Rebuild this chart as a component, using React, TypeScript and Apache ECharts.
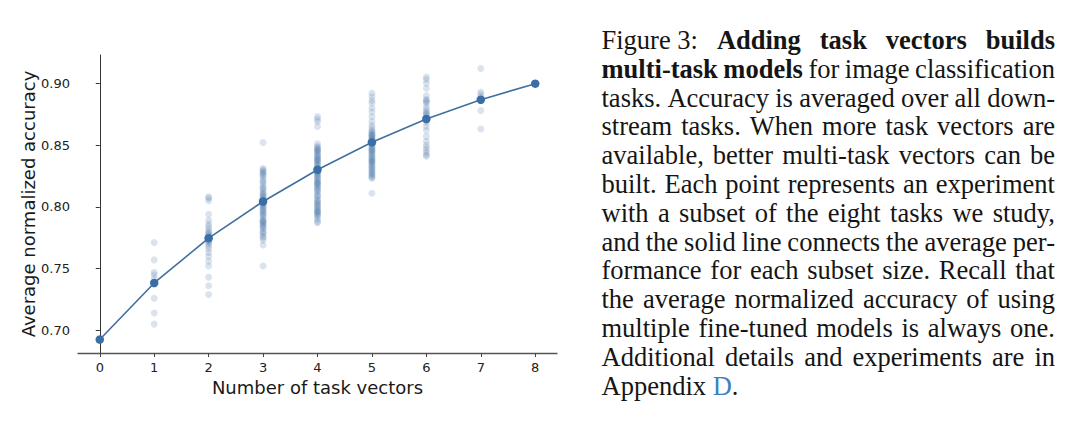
import React, { useEffect, useRef } from "react";
import * as echarts from "echarts";

// ---------- data ----------
const subsetSizes = [0, 1, 2, 3, 4, 5, 6, 7, 8];
const meanAccuracy = [0.6925, 0.7383, 0.7746, 0.8043, 0.83, 0.8522, 0.8711, 0.8867, 0.8997];

const acc0 = [0.6925];
const acc1 = [0.771, 0.757, 0.747, 0.745, 0.742, 0.726, 0.714, 0.705];
const acc2 = [
  0.808, 0.807, 0.805, 0.794, 0.789, 0.786, 0.784, 0.782, 0.78, 0.779, 0.778, 0.777, 0.776, 0.775,
  0.774, 0.773, 0.772, 0.771, 0.77, 0.768, 0.766, 0.763, 0.76, 0.756, 0.752, 0.743, 0.736, 0.729,
];
const acc3 = [
  0.852, 0.831, 0.83, 0.829, 0.828, 0.827, 0.826, 0.825, 0.823, 0.821, 0.82, 0.818, 0.816, 0.815,
  0.814, 0.812, 0.811, 0.81, 0.809, 0.808, 0.807, 0.806, 0.805, 0.805, 0.804, 0.803, 0.803, 0.802,
  0.801, 0.8, 0.799, 0.798, 0.797, 0.796, 0.795, 0.794, 0.793, 0.792, 0.79, 0.789, 0.788, 0.788,
  0.787, 0.786, 0.785, 0.784, 0.783, 0.782, 0.78, 0.779, 0.778, 0.776, 0.775, 0.773, 0.769, 0.752,
];
const acc4 = [
  0.873, 0.871, 0.869, 0.865, 0.851, 0.849, 0.848, 0.847, 0.846, 0.845, 0.844, 0.843, 0.842, 0.841,
  0.84, 0.839, 0.838, 0.837, 0.836, 0.835, 0.834, 0.833, 0.832, 0.831, 0.83, 0.83, 0.829, 0.828,
  0.827, 0.826, 0.825, 0.824, 0.823, 0.822, 0.821, 0.82, 0.819, 0.818, 0.817, 0.816, 0.815, 0.814,
  0.813, 0.812, 0.81, 0.808, 0.806, 0.805, 0.804, 0.803, 0.802, 0.801, 0.8, 0.799, 0.798, 0.797,
  0.796, 0.795, 0.794, 0.793, 0.792, 0.79, 0.788, 0.787, 0.846, 0.838, 0.828, 0.819, 0.809, 0.796,
];
const acc5 = [
  0.892, 0.889, 0.886, 0.884, 0.88, 0.877, 0.873, 0.869, 0.866, 0.864, 0.862, 0.861, 0.86, 0.859,
  0.858, 0.857, 0.856, 0.855, 0.854, 0.853, 0.852, 0.852, 0.851, 0.85, 0.849, 0.848, 0.847, 0.846,
  0.845, 0.844, 0.843, 0.842, 0.841, 0.84, 0.839, 0.838, 0.837, 0.836, 0.835, 0.834, 0.833, 0.832,
  0.831, 0.83, 0.829, 0.828, 0.827, 0.826, 0.825, 0.824, 0.823, 0.858, 0.855, 0.846, 0.837, 0.811,
];
const acc6 = [
  0.905, 0.903, 0.9, 0.896, 0.89, 0.887, 0.886, 0.885, 0.884, 0.881, 0.879, 0.877, 0.876, 0.875,
  0.874, 0.872, 0.87, 0.868, 0.865, 0.862, 0.857, 0.853, 0.85, 0.848, 0.846, 0.844, 0.842, 0.841,
];
const acc7 = [0.912, 0.893, 0.891, 0.889, 0.887, 0.886, 0.878, 0.863];
const acc8 = [0.8997];
const subsetAccuracies = [acc0, acc1, acc2, acc3, acc4, acc5, acc6, acc7, acc8];

const xTicks = [0, 1, 2, 3, 4, 5, 6, 7, 8];
const yTicks = [0.7, 0.75, 0.8, 0.85, 0.9];
const xAxisTitle = "Number of task vectors";
const yAxisTitle = "Average normalized accuracy";

// caption: words separated by spaces, '*' marks bold words, {l|..} marks link colour
const captionLines = [
  "Figure\u00a03: *Adding *task *vectors *builds",
  "*multi-task *models for image classification",
  "tasks. Accuracy is averaged over all down-",
  "stream tasks. When more task vectors are",
  "available, better multi-task vectors can be",
  "built. Each point represents an experiment",
  "with a subset of the eight tasks we study,",
  "and the solid line connects the average per-",
  "formance for each subset size. Recall that",
  "the average normalized accuracy of using",
  "multiple fine-tuned models is always one.",
  "Additional details and experiments are in",
  "Appendix {l|D}.",
];

const CAP_FS = 27;
const CAP_FONT = "'Liberation Serif', 'Times New Roman', serif";
const CAP_X0 = 601.5;
const CAP_W = 453.5;
const CAP_Y0 = 40;
const CAP_LH = 28.8;

function buildCaption(): any[] {
  const ctx = document.createElement("canvas").getContext("2d") as CanvasRenderingContext2D;
  const measure = (t: string, bold: boolean) => {
    ctx.font = `${bold ? "bold " : ""}${CAP_FS}px ${CAP_FONT}`;
    return ctx.measureText(t).width;
  };
  const parsed = captionLines.map((line) =>
    line.split(" ").map((w) => {
      const bold = w.startsWith("*");
      const text = bold ? w.slice(1) : w;
      return { text, bold, width: measure(text.replace(/\{l\|(.*?)\}/g, "$1"), bold) };
    })
  );
  let s = 1.18;
  parsed.forEach((words, i) => {
    if (i === 0 || i === parsed.length - 1) return;
    const sum = words.reduce((a, w) => a + w.width, 0);
    const si = (CAP_W - 5.5 * (words.length - 1)) / sum;
    if (si < s) s = si;
  });
  const els: any[] = [];
  parsed.forEach((words, i) => {
    const y = CAP_Y0 + i * CAP_LH;
    const last = i === parsed.length - 1;
    if (last) {
      els.push({
        type: "text",
        x: CAP_X0,
        y,
        scaleX: s,
        silent: true,
        style: {
          text: captionLines[i],
          fontSize: CAP_FS,
          fontFamily: CAP_FONT,
          fill: "#151515",
          verticalAlign: "middle",
          align: "left",
          rich: { l: { fill: "#3f7fbf", fontSize: CAP_FS, fontFamily: CAP_FONT } },
        },
      });
      return;
    }
    const sum = words.reduce((a, w) => a + w.width, 0);
    const gap = (CAP_W - s * sum) / (words.length - 1);
    let x = CAP_X0;
    words.forEach((w) => {
      els.push({
        type: "text",
        x,
        y,
        scaleX: s,
        silent: true,
        style: {
          text: w.text,
          fontSize: CAP_FS,
          fontFamily: CAP_FONT,
          fontWeight: w.bold ? "bold" : "normal",
          fill: "#151515",
          verticalAlign: "middle",
          align: "left",
        },
      });
      x += w.width * s + gap;
    });
  });
  return els;
}

export default function App() {
  const ref = useRef<HTMLDivElement>(null);
  useEffect(() => {
    if (!ref.current) return;
    const chart = echarts.init(ref.current, null, { renderer: "svg" });
    const scatterData = subsetAccuracies.flatMap((arr, k) => arr.map((v) => [subsetSizes[k], v]));
    const meanData = meanAccuracy.map((v, i) => [subsetSizes[i], v]);
    const axisFont = "'DejaVu Sans', sans-serif";
    chart.setOption({
      animation: false,
      backgroundColor: "#ffffff",
      grid: { left: 78, top: 55, right: 523, bottom: 79, containLabel: false },
      xAxis: {
        type: "value",
        min: -0.4,
        max: 8.4,
        name: xAxisTitle,
        nameLocation: "middle",
        nameGap: 23,
        nameTextStyle: { fontSize: 18, color: "#1a1a1a", fontFamily: axisFont },
        axisLine: { show: true, lineStyle: { color: "#555", width: 1.3 } },
        axisTick: { show: true, length: 4, customValues: xTicks, lineStyle: { color: "#444" } },
        axisLabel: {
          customValues: xTicks,
          margin: 8,
          fontSize: 13,
          color: "#222",
          fontFamily: axisFont,
          formatter: (v: number) => String(Math.round(v)),
        },
        splitLine: { show: false },
      },
      yAxis: {
        type: "value",
        min: 0.6816,
        max: 0.9229,
        name: yAxisTitle,
        nameLocation: "middle",
        nameGap: 41,
        nameTextStyle: { fontSize: 18, color: "#1a1a1a", fontFamily: axisFont },
        axisLine: { show: true, lineStyle: { color: "#333", width: 1 } },
        axisTick: { show: true, length: 4, customValues: yTicks, lineStyle: { color: "#333" } },
        axisLabel: {
          customValues: yTicks,
          margin: 8,
          fontSize: 13,
          color: "#222",
          fontFamily: axisFont,
          formatter: (v: number) => v.toFixed(2),
        },
        splitLine: { show: false },
      },
      series: [
        {
          type: "scatter",
          data: scatterData,
          symbolSize: 7,
          itemStyle: { color: "#4a76a8", opacity: 0.2 },
          z: 1,
        },
        {
          type: "line",
          data: meanData,
          symbol: "circle",
          symbolSize: 8.5,
          showSymbol: true,
          lineStyle: { color: "#41709f", width: 1.6 },
          itemStyle: { color: "#3a6ea6" },
          z: 3,
        },
      ],
      graphic: buildCaption(),
    });
    return () => chart.dispose();
  }, []);
  return (
    <div
      ref={ref}
      style={{ position: "fixed", left: 0, top: 0, width: 1080, height: 432, background: "#fff" }}
    />
  );
}
